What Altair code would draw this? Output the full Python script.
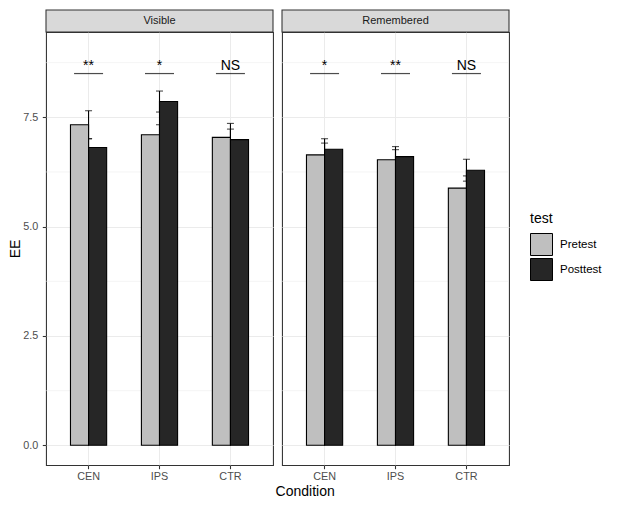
import altair as alt
import pandas as pd

panels = ["Visible", "Remembered"]
conditions = ["CEN", "IPS", "CTR"]
tests = ["Pretest", "Posttest"]
test_colors = ["#BFBFBF", "#262626"]

visible_pre = [7.33, 7.10, 7.04]
visible_post = [6.81, 7.86, 6.99]
remembered_pre = [6.64, 6.53, 5.88]
remembered_post = [6.77, 6.60, 6.29]

visible_pre_se = [0.32, 0.23, 0.32]
visible_post_se = [0.20, 0.24, 0.24]
remembered_pre_se = [0.27, 0.23, 0.28]
remembered_post_se = [0.24, 0.23, 0.25]

sig_visible = ["**", "*", "NS"]
sig_remembered = ["*", "**", "NS"]
sig_line_y = 8.5
sig_text_y = 8.57

y_major = [0, 2.5, 5, 7.5]
y_minor = [1.25, 3.75, 6.25, 8.75]
y_domain = [-0.45, 9.45]

FONT = "Liberation Sans"
W, H = 227, 433


def make_panel(name, pre, post, pre_se, post_se, sigs, first):
    rows = []
    for c, m, s in zip(conditions, pre, pre_se):
        rows.append({"Condition": c, "test": "Pretest", "EE": m, "se": s})
    for c, m, s in zip(conditions, post, post_se):
        rows.append({"Condition": c, "test": "Posttest", "EE": m, "se": s})
    df = pd.DataFrame(rows)
    sig_df = pd.DataFrame({"Condition": conditions, "label": sigs,
                           "yl": [sig_line_y] * 3, "yt": [sig_text_y] * 3})
    minor_df = pd.DataFrame({"y": y_minor})
    strip_df = pd.DataFrame({"panel": [name]})

    x_scale = alt.Scale(domain=conditions, paddingInner=0.49, paddingOuter=0.345)
    x_axis = alt.Axis(title=None, bandPosition=0.5, labelAngle=0, labelPadding=1.5)
    if first:
        y_axis = alt.Axis(title="EE", values=y_major, format=".1f", titlePadding=0,
                          labelPadding=4.5)
    else:
        y_axis = alt.Axis(title=None, values=y_major, labels=False, ticks=False)
    y_scale = alt.Scale(domain=y_domain, nice=False, zero=False)

    x_enc = alt.X("Condition:N", sort=conditions, scale=x_scale, axis=x_axis)

    minor = alt.Chart(minor_df).mark_rule(color="#EBEBEB", strokeWidth=0.55).encode(
        y=alt.Y("y:Q", scale=y_scale, axis=y_axis)
    )

    base = alt.Chart(df).transform_calculate(
        ymin="datum.EE - datum.se", ymax="datum.EE + datum.se"
    )
    err_rule = base.mark_rule(color="black", strokeWidth=1.1).encode(
        x=x_enc, y=alt.Y("ymin:Q", scale=y_scale, axis=y_axis), y2="ymax:Q"
    )
    cap_lo = base.mark_tick(color="black", size=7, thickness=1.1).encode(
        x=x_enc, y=alt.Y("ymin:Q", scale=y_scale, axis=y_axis)
    )
    cap_hi = base.mark_tick(color="black", size=7, thickness=1.1).encode(
        x=x_enc, y=alt.Y("ymax:Q", scale=y_scale, axis=y_axis)
    )
    bars = alt.Chart(df).mark_bar(stroke="black", strokeWidth=1.1).encode(
        x=x_enc,
        xOffset=alt.XOffset("test:N", sort=tests,
                            scale=alt.Scale(domain=tests, paddingInner=0, paddingOuter=0)),
        y=alt.Y("EE:Q", scale=y_scale, axis=y_axis),
        fill=alt.Fill("test:N", sort=tests,
                      scale=alt.Scale(domain=tests, range=test_colors),
                      legend=alt.Legend(title="test", orient="none",
                                        legendX=484, legendY=180)),
    )
    sig_line = alt.Chart(sig_df).mark_tick(color="black", size=29, thickness=1.2).encode(
        x=x_enc, y=alt.Y("yl:Q", scale=y_scale, axis=y_axis)
    )
    sig_text = alt.Chart(sig_df).mark_text(
        font=FONT, fontSize=14, baseline="alphabetic", color="black"
    ).encode(x=x_enc, y=alt.Y("yt:Q", scale=y_scale, axis=y_axis), text="label:N")

    strip_bg = alt.Chart(strip_df).mark_rect(
        fill="#D9D9D9", stroke="#333333", strokeWidth=1.07
    ).encode(x=alt.value(0), x2=alt.value(W), y=alt.value(-22), y2=alt.value(0))
    strip_txt = alt.Chart(strip_df).mark_text(
        font=FONT, fontSize=11, color="#1A1A1A", baseline="middle"
    ).encode(x=alt.value(W / 2), y=alt.value(-11), text="panel:N")

    return alt.layer(minor, err_rule, cap_lo, cap_hi, bars, sig_line, sig_text,
                     strip_bg, strip_txt).properties(width=W, height=H)


p1 = make_panel("Visible", visible_pre, visible_post, visible_pre_se, visible_post_se,
                sig_visible, True)
p2 = make_panel("Remembered", remembered_pre, remembered_post, remembered_pre_se,
                remembered_post_se, sig_remembered, False)

chart = alt.hconcat(
    p1, p2, spacing=5,
    title=alt.TitleParams("Condition", orient="bottom", anchor="middle", font=FONT,
                          fontSize=14, fontWeight="normal", color="black", offset=3),
).properties(
    padding={"left": 0, "top": 0, "right": 5, "bottom": 2}
).configure_view(
    stroke="#333333", strokeWidth=1.07
).configure_axis(
    grid=True, gridColor="#EBEBEB", gridWidth=1.07, domain=False,
    tickColor="#333333", tickSize=3.7, tickWidth=1.07,
    labelColor="#4D4D4D", labelFont=FONT, labelFontSize=10.8,
    titleFont=FONT, titleFontSize=14, titleColor="black", titleFontWeight="normal",
).configure_legend(
    titleFont=FONT, titleFontSize=14, titleFontWeight="normal", titleColor="black",
    labelFont=FONT, labelFontSize=11.5, labelColor="black",
    symbolType="square", symbolSize=484, symbolStrokeColor="black",
    symbolStrokeWidth=1, symbolOpacity=1, rowPadding=-4, labelOffset=7, titlePadding=7,
    padding=0,
)

chart.save("out.html", embed_options={"renderer": "svg", "actions": False})
